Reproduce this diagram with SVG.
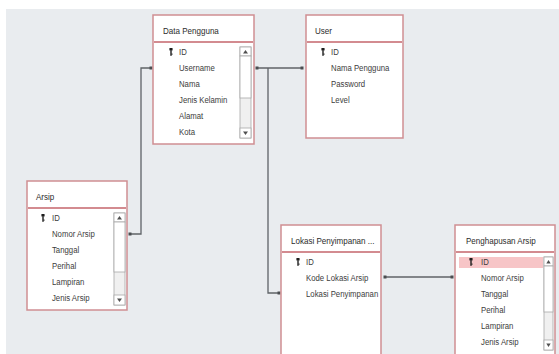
<svg xmlns="http://www.w3.org/2000/svg" width="559" height="354" viewBox="0 0 559 354">
<style>
.box{fill:#ffffff;stroke:#cf8e93;stroke-width:1.5}
.sep{stroke:#c4646b;stroke-width:1.5}
.hd{font-family:"Liberation Sans",Arial,sans-serif;font-size:9.8px;fill:#2b2b2b}
.fd{font-family:"Liberation Sans",Arial,sans-serif;font-size:9.5px;fill:#3c3c3c}
.sb{fill:#f0f0f0;stroke:#a8a8a8;stroke-width:0.8}
.sbb{fill:#ffffff;stroke:#a8a8a8;stroke-width:0.8}
.arr{fill:#505050}
.key{fill:#1e1e1e}
.conn{fill:none;stroke:#5f6367;stroke-width:1.3}
</style>
<defs>
<marker id="dot" markerWidth="4" markerHeight="4" refX="2" refY="2" markerUnits="userSpaceOnUse">
<rect x="0.5" y="0.5" width="3" height="3" fill="#4a4d50"/>
</marker>
<g id="keyi">
<rect x="-1.6" y="-4" width="3.2" height="2.6" rx="0.6" class="key"/>
<rect x="-0.7" y="-1.8" width="1.4" height="5.6" class="key"/>
<rect x="0.3" y="1.6" width="1.3" height="1" class="key"/>
</g>
</defs>
<rect x="0" y="0" width="559" height="354" fill="#ffffff"/>
<rect x="6" y="9" width="553" height="345" fill="#e9ecef"/>

<g id="connectors">
<path class="conn" d="M130,234 H141 V68 H151" marker-start="url(#dot)" marker-end="url(#dot)"/>
<path class="conn" d="M257,68 H302" marker-start="url(#dot)" marker-end="url(#dot)"/>
<path class="conn" d="M268,68 V293 H279" marker-end="url(#dot)"/>
<path class="conn" d="M385,277 H452" marker-start="url(#dot)" marker-end="url(#dot)"/>
</g>

<g id="data-pengguna">
<rect class="box" x="153" y="15" width="101" height="129"/>
<line class="sep" x1="154" y1="42" x2="253" y2="42"/>
<use href="#keyi" x="171" y="52"/>
<rect class="sb" x="240" y="47" width="11" height="91"/>
<rect class="sbb" x="240" y="47" width="11" height="9"/>
<path class="arr" d="M243,53.5 L245.5,50 L248,53.5 Z"/>
<rect class="sbb" x="240" y="56" width="11" height="42"/>
<rect class="sbb" x="240" y="128" width="11" height="10"/>
<path class="arr" d="M243,131.5 L245.5,135 L248,131.5 Z"/>
<g transform="scale(0.82 1)">
<text class="hd" x="198.8" y="34.5">Data Pengguna</text>
<text class="fd" x="218.3" y="55.5">ID</text>
<text class="fd" x="218.3" y="71.5">Username</text>
<text class="fd" x="218.3" y="87.5">Nama</text>
<text class="fd" x="218.3" y="103.5">Jenis Kelamin</text>
<text class="fd" x="218.3" y="119.5">Alamat</text>
<text class="fd" x="218.3" y="135.5">Kota</text>
</g>
</g>

<g id="user">
<rect class="box" x="306" y="15" width="97" height="123"/>
<line class="sep" x1="307" y1="42" x2="402" y2="42"/>
<use href="#keyi" x="323" y="52"/>
<g transform="scale(0.82 1)">
<text class="hd" x="384.1" y="34.5">User</text>
<text class="fd" x="403.7" y="55.5">ID</text>
<text class="fd" x="403.7" y="71.5">Nama Pengguna</text>
<text class="fd" x="403.7" y="87.5">Password</text>
<text class="fd" x="403.7" y="103.5">Level</text>
</g>
</g>

<g id="arsip">
<rect class="box" x="27" y="181" width="100" height="129"/>
<line class="sep" x1="28" y1="208" x2="126" y2="208"/>
<use href="#keyi" x="43" y="218"/>
<rect class="sb" x="114" y="213" width="11" height="92"/>
<rect class="sbb" x="114" y="213" width="11" height="9"/>
<path class="arr" d="M117,219.5 L119.5,216 L122,219.5 Z"/>
<rect class="sbb" x="114" y="222" width="11" height="50"/>
<rect class="sbb" x="114" y="295" width="11" height="10"/>
<path class="arr" d="M117,298.5 L119.5,302 L122,298.5 Z"/>
<g transform="scale(0.82 1)">
<text class="hd" x="43.9" y="200.5">Arsip</text>
<text class="fd" x="63.4" y="221.5">ID</text>
<text class="fd" x="63.4" y="237.5">Nomor Arsip</text>
<text class="fd" x="63.4" y="253.5">Tanggal</text>
<text class="fd" x="63.4" y="269.5">Perihal</text>
<text class="fd" x="63.4" y="285.5">Lampiran</text>
<text class="fd" x="63.4" y="301.5">Jenis Arsip</text>
</g>
</g>

<g id="lokasi-penyimpanan">
<rect class="box" x="281" y="225" width="100" height="140"/>
<line class="sep" x1="282" y1="252" x2="380" y2="252"/>
<use href="#keyi" x="298" y="262"/>
<g transform="scale(0.82 1)">
<text class="hd" x="354.9" y="244.5">Lokasi Penyimpanan ...</text>
<text class="fd" x="373.2" y="265.5">ID</text>
<text class="fd" x="373.2" y="281.5">Kode Lokasi Arsip</text>
<text class="fd" x="373.2" y="297.5">Lokasi Penyimpanan</text>
</g>
</g>

<g id="penghapusan-arsip">
<rect class="box" x="455" y="225" width="100" height="140"/>
<line class="sep" x1="456" y1="252" x2="554" y2="252"/>
<rect x="459" y="257" width="84" height="11" fill="#f7c5c7"/>
<use href="#keyi" x="471" y="262"/>
<rect class="sb" x="544" y="257" width="9" height="93"/>
<rect class="sbb" x="544" y="257" width="9" height="9"/>
<path class="arr" d="M546.3,263.5 L548.5,260 L550.7,263.5 Z"/>
<rect class="sbb" x="544" y="266" width="9" height="46"/>
<rect class="sbb" x="544" y="340" width="9" height="10"/>
<path class="arr" d="M546.3,343.5 L548.5,347 L550.7,343.5 Z"/>
<g transform="scale(0.82 1)">
<text class="hd" x="568.3" y="244.5">Penghapusan Arsip</text>
<text class="fd" x="586.6" y="265.5">ID</text>
<text class="fd" x="586.6" y="281.5">Nomor Arsip</text>
<text class="fd" x="586.6" y="297.5">Tanggal</text>
<text class="fd" x="586.6" y="313.5">Perihal</text>
<text class="fd" x="586.6" y="329.5">Lampiran</text>
<text class="fd" x="586.6" y="345.5">Jenis Arsip</text>
</g>
</g>
</svg>
